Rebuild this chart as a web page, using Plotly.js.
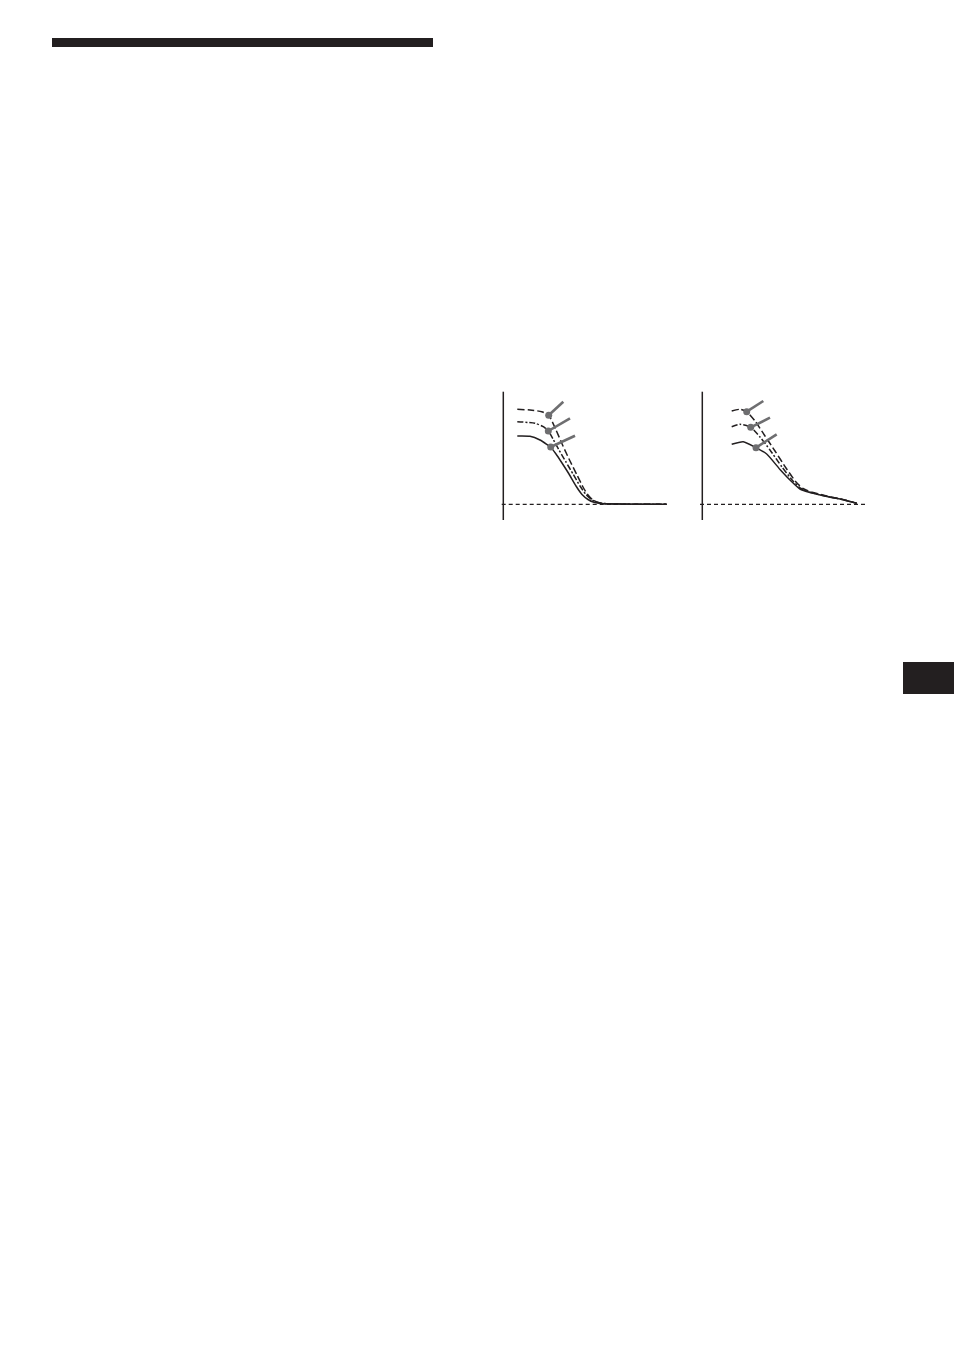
<!DOCTYPE html>
<html>
<head>
<meta charset="utf-8">
<script src="https://cdn.plot.ly/plotly-3.0.1.min.js"></script>
<style>html,body{margin:0;padding:0;background:#fff;}#chart{width:954px;height:1355px;}</style>
</head>
<body>
<div id="chart"></div>
<script>
// ---- Left chart (level vs. frequency, arbitrary units) ----
const leftSolidX  = [14, 26.7, 36.7, 43.4, 47.4, 52.7, 58.7, 65.7, 72.7, 78.7, 84.7, 90.7, 98.7, 116.7, 163.4];
const leftSolidY  = [68.3, 68, 64.3, 60, 57, 50.3, 41.3, 30.3, 18.3, 9.8, 4.8, 2, 0.7, 0.2, 0];
const leftMidX    = [14, 31.7, 40, 45, 49.7, 55.7, 62.7, 69.7, 76.7, 82.7, 88.7, 94.7, 102.7, 116.7, 163.4];
const leftMidY    = [82.6, 81, 77.6, 73.3, 65.3, 54.3, 42.3, 30.3, 18.3, 9.8, 4.5, 1.8, 0.6, 0.2, 0];
const leftTopX    = [14, 26.7, 38.4, 45.4, 52.7, 59.7, 66.7, 73.7, 79.7, 84.7, 89.7, 96.7, 116.7, 163.4];
const leftTopY    = [95, 94.3, 92.6, 89, 74.3, 58.3, 43.3, 29.3, 17.3, 9.3, 4.3, 1.3, 0.3, 0];
const leftPinFromX = [45.4, 45, 47.4];
const leftPinFromY = [89, 73.3, 57.3];
const leftPinToX   = [60, 66.7, 71.7];
const leftPinToY   = [102.6, 86, 68.6];
const leftBaseX = [-1.6, 163.4];

// ---- Right chart ----
const rightSolidX = [29.4, 41, 53.7, 64.4, 77.7, 88.7, 97.7, 107.7, 125.7, 140.7, 154.4];
const rightSolidY = [60, 62.6, 56.6, 50.3, 34.8, 23.3, 15.3, 11.8, 7.6, 4.5, 1];
const rightMidX   = [29.4, 37.7, 48.4, 57.7, 67.7, 79.7, 90.7, 98.7, 107.7, 125.7, 140.7, 154.4];
const rightMidY   = [77.6, 80, 77, 67.3, 54.3, 37.3, 23.3, 15.8, 12, 7.8, 4.6, 1];
const rightTopX   = [29.4, 37.7, 44.4, 52.7, 62.7, 72.7, 83.7, 93.7, 100.7, 109.7, 125.7, 140.7, 154.4];
const rightTopY   = [93.3, 95, 92.6, 83.3, 68.3, 53.3, 36.3, 22.3, 15.8, 12, 8, 4.8, 1];
const rightPinFromX = [44.4, 48.4, 53.7];
const rightPinFromY = [92.6, 77, 56.6];
const rightPinToX   = [61, 67.7, 74.4];
const rightPinToY   = [103.3, 86.6, 70];
const rightBaseX = [-2.3, 162.7];

const axisSpanY = [-15.7, 112.6];

const INK = '#231f20';
const PIN = '#6e6e70';

function chartTraces(xa, ya, solidX, solidY, midX, midY, topX, topY, pfx, pfy, ptx, pty, baseX) {
  const t = [];
  t.push({x: baseX, y: [0, 0], xaxis: xa, yaxis: ya, mode: 'lines',
          line: {color: INK, width: 1.2, dash: '4px,3px'}});
  t.push({x: [0, 0], y: axisSpanY, xaxis: xa, yaxis: ya, mode: 'lines',
          line: {color: INK, width: 1.5}});
  t.push({x: solidX, y: solidY, xaxis: xa, yaxis: ya, mode: 'lines',
          line: {color: INK, width: 1.5, shape: 'spline', smoothing: 0.6}});
  t.push({x: midX, y: midY, xaxis: xa, yaxis: ya, mode: 'lines',
          line: {color: INK, width: 1.5, shape: 'spline', smoothing: 0.6, dash: '6px,2px,2px,2px'}});
  t.push({x: topX, y: topY, xaxis: xa, yaxis: ya, mode: 'lines',
          line: {color: INK, width: 1.5, shape: 'spline', smoothing: 0.6, dash: '7px,3px'}});
  const px = [], py = [];
  for (let i = 0; i < pfx.length; i++) { px.push(pfx[i], ptx[i], null); py.push(pfy[i], pty[i], null); }
  t.push({x: px, y: py, xaxis: xa, yaxis: ya, mode: 'lines', connectgaps: false,
          line: {color: PIN, width: 2.6}});
  t.push({x: pfx, y: pfy, xaxis: xa, yaxis: ya, mode: 'markers',
          marker: {color: PIN, size: 7}});
  return t;
}

const data = [].concat(
  chartTraces('x', 'y', leftSolidX, leftSolidY, leftMidX, leftMidY, leftTopX, leftTopY,
              leftPinFromX, leftPinFromY, leftPinToX, leftPinToY, leftBaseX),
  chartTraces('x2', 'y2', rightSolidX, rightSolidY, rightMidX, rightMidY, rightTopX, rightTopY,
              rightPinFromX, rightPinFromY, rightPinToX, rightPinToY, rightBaseX)
);

const W = 954, H = 1355;
const hidden = {visible: false, showgrid: false, zeroline: false, fixedrange: true};
const yDom = [1 - 522 / H, 1 - 388 / H];
const layout = {
  width: W, height: H,
  margin: {l: 0, r: 0, t: 0, b: 0},
  paper_bgcolor: '#ffffff', plot_bgcolor: 'rgba(0,0,0,0)',
  showlegend: false, hovermode: false,
  xaxis:  Object.assign({}, hidden, {domain: [498 / W, 670 / W], range: [-5.3, 166.7], anchor: 'y'}),
  yaxis:  Object.assign({}, hidden, {domain: yDom, range: [-17.7, 116.3], anchor: 'x'}),
  xaxis2: Object.assign({}, hidden, {domain: [697 / W, 869 / W], range: [-5.3, 166.7], anchor: 'y2'}),
  yaxis2: Object.assign({}, hidden, {domain: yDom, range: [-17.7, 116.3], anchor: 'x2'}),
  shapes: [
    {type: 'rect', xref: 'paper', yref: 'paper', x0: 52 / W, x1: 433 / W, y0: 1 - 47 / H, y1: 1 - 38 / H,
     fillcolor: INK, line: {width: 0}},
    {type: 'rect', xref: 'paper', yref: 'paper', x0: 903 / W, x1: 1, y0: 1 - 694 / H, y1: 1 - 662 / H,
     fillcolor: INK, line: {width: 0}}
  ]
};

Plotly.newPlot('chart', data, layout, {staticPlot: true, displayModeBar: false});
</script>
</body>
</html>
